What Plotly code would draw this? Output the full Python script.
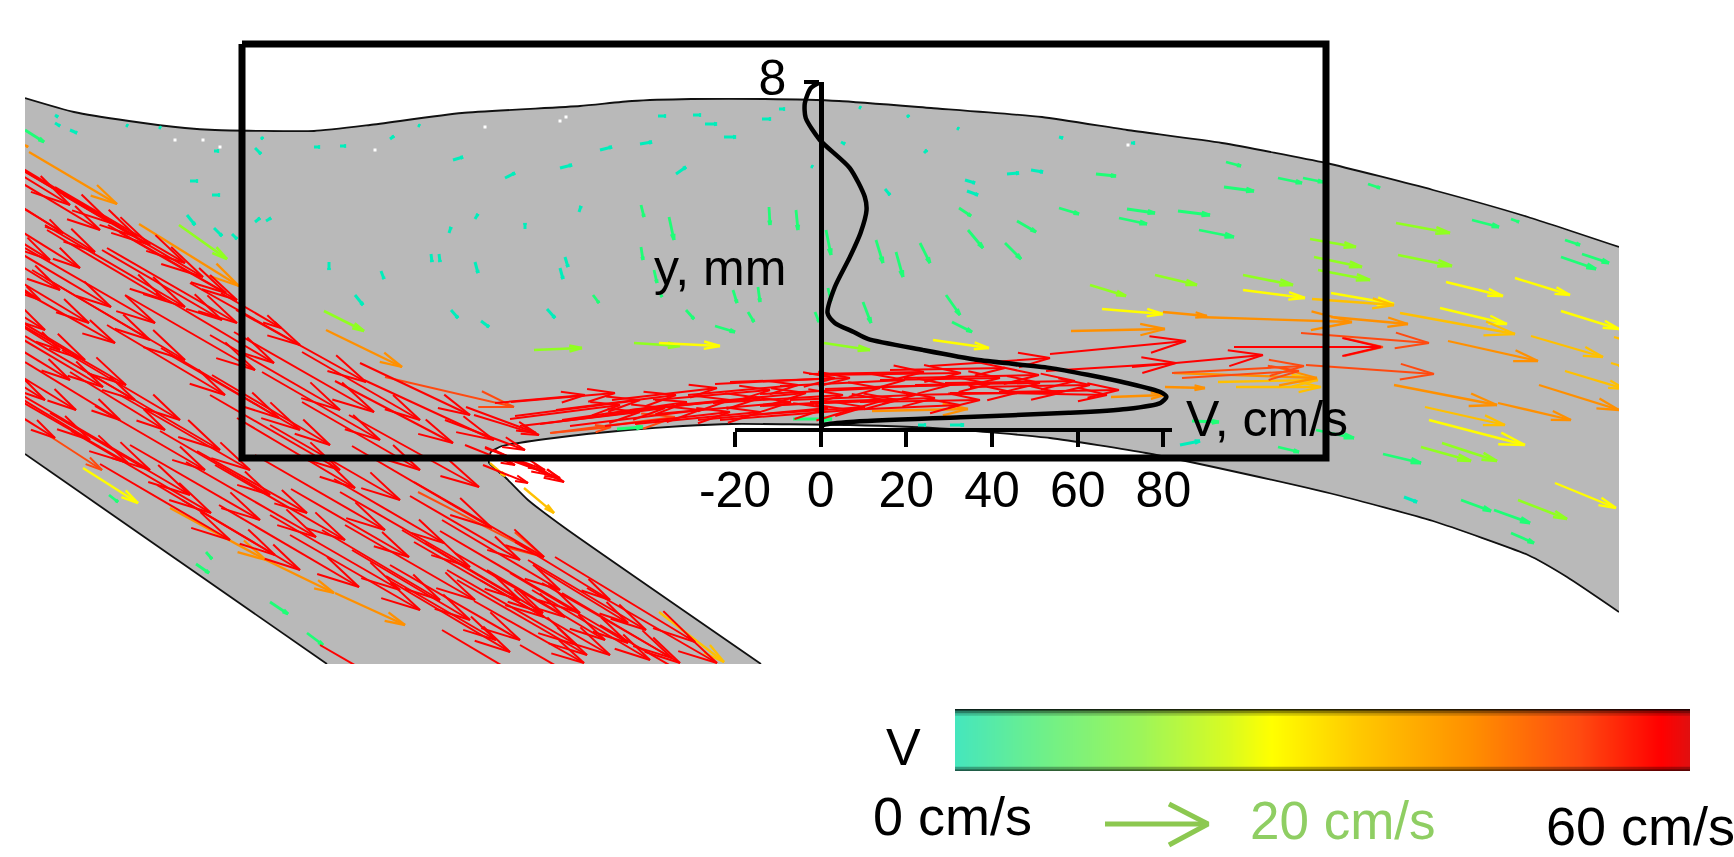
import math
import plotly.graph_objects as go

W, H = 1734, 857
FONT = "Liberation Sans"

# ---- channel geometry (image-space coordinates) ----
top_wall_x = [25, 74, 129, 185, 215, 314, 370, 462, 580, 632, 691, 765, 839, 931, 1042, 1127, 1222, 1326, 1433, 1528, 1619]
top_wall_y = [98, 112, 121, 128, 130, 131, 125, 113, 106, 101, 99, 99, 101, 108, 117, 130, 143, 163, 190, 217, 247]
lower_wall_x = [489, 491, 502, 554, 628, 683, 732, 850, 950, 1050, 1146, 1241, 1337, 1433, 1528, 1567, 1619]
lower_wall_y = [458, 452, 446, 438, 430, 426, 424, 425, 429, 438, 453, 473, 495, 521, 555, 577, 612]
nozzle_x = [489, 489, 506, 528, 565, 761]
nozzle_y = [458, 463, 478, 500, 528, 664]
left_wall_x = [327, 25]
left_wall_y = [664, 454]
box_x = [242, 1326, 1326, 242, 242]
box_y = [44, 44, 458, 458, 44]
speck_x = [485, 375, 220, 203, 560, 1128, 566, 175]
speck_y = [127, 150, 147, 140, 121, 145, 117, 140]

# ---- velocity profile ----
profile_v = [0, -2.3, -3.7, -3.5, -0.2, 6.8, 10.3, 10.7, 9.3, 6.8, 3.3, 1.6, 3.3, 7.7, 11, 24, 36.9, 53.4, 62.3, 71.4, 79.3, 80.7, 79.3, 71.4, 57.9, 32.7, 6.8, 0.7, 0]
profile_y = [8, 7.86, 7.51, 7.17, 6.66, 6.01, 5.34, 5.04, 4.51, 3.95, 3.26, 2.66, 2.43, 2.22, 2.06, 1.8, 1.57, 1.39, 1.23, 1.04, 0.83, 0.72, 0.58, 0.44, 0.35, 0.25, 0.14, 0.07, 0]
v_ticks = [-20, 0, 20, 40, 60, 80]
v_tick_labels = ["-20", "0", "20", "40", "60", "80"]

# ---- arrows: (x, y, dx, dy) per speed class, x,y = tail ----
turquoise = [(55,115,3,2),(55,123,5,3),(70,130,7,3),(126,125,2,1),(159,127,2,1),(214,151,5,0),(190,181,8,0),(212,195,8,0),(187,215,8,10),(214,228,8,8),(232,234,5,5),(255,148,6,6),(261,137,2,2),(314,147,6,0),(340,146,6,0),(390,139,4,-3),(418,125,2,1),(453,160,10,-3),(560,168,12,-3),(505,178,10,-5),(255,222,5,-4),(266,221,5,-3),(475,219,3,-5),(449,233,2,-6),(525,229,0,-6),(579,212,2,-6),(329,262,0,8),(381,271,3,8),(355,295,8,10),(431,254,1,8),(439,254,1,8),(475,262,3,11),(565,257,3,10),(560,268,3,11),(451,310,7,8),(481,321,8,6),(547,309,8,9),(658,116,8,0),(693,115,8,0),(705,124,12,0),(762,119,9,0),(779,109,6,0),(724,137,12,0),(600,150,12,-3),(640,144,12,-2),(676,174,10,-7),(841,142,4,2),(811,166,2,1),(859,107,2,1),(907,115,2,2),(957,128,2,1),(1059,137,4,1),(1131,143,4,0),(924,153,3,-3),(885,189,5,6),(965,180,10,3),(1007,174,12,-1),(1031,170,12,2),(967,191,11,4),(1404,497,13,5),(1180,445,20,-4),(918,425,8,0),(950,425,14,0)]
green = [(641,205,3,12),(769,207,1,18),(796,210,2,20),(669,217,5,23),(641,247,2,13),(654,270,3,13),(660,293,2,4),(593,295,6,8),(733,290,4,13),(758,287,2,15),(686,310,8,9),(748,312,6,10),(826,230,5,25),(828,288,3,13),(815,312,4,10),(876,240,7,23),(896,252,7,25),(920,243,10,20),(959,208,12,8),(968,230,15,18),(1005,243,16,16),(1017,221,19,11),(1059,208,20,6),(1096,174,20,2),(1127,209,28,4),(1119,218,28,6),(863,302,8,21),(946,295,14,20),(952,322,20,10),(715,326,20,6),(1226,162,15,4),(1224,187,30,4),(1278,178,24,5),(1303,178,20,4),(1368,184,12,4),(1178,211,32,4),(1199,230,35,7),(1472,220,27,7),(1511,219,8,3),(1565,240,15,5),(1582,254,27,9),(1561,257,35,12),(1192,421,27,1),(1278,447,21,5),(1316,430,38,8),(1383,454,38,9),(1461,500,30,11),(1494,510,36,13),(1511,533,23,10),(109,495,9,7),(196,564,13,9),(206,552,6,7),(270,602,18,12),(307,633,16,12),(25,130,19,12),(793,419,39,0),(617,429,26,-2)]
lime = [(179,225,48,34),(324,311,40,20),(534,350,48,-2),(634,343,46,3),(1396,223,54,10),(1310,239,46,8),(1314,257,48,10),(1318,270,52,10),(1155,275,42,10),(1243,275,50,10),(1090,285,36,11),(1398,255,54,11),(824,343,46,7),(1421,447,50,14),(1442,443,55,18),(1518,500,49,19)]
yellow = [(1446,282,57,14),(1515,278,55,17),(1243,290,62,8),(1102,309,61,5),(1331,293,63,11),(1440,308,67,16),(1561,311,58,18),(659,343,61,3),(933,340,56,8),(83,468,55,35),(1429,420,96,25),(1555,483,61,25)]
gold = [(1400,313,115,21),(1312,299,82,6),(1531,336,72,21),(1565,371,60,18),(1425,407,80,18),(1614,337,10,3),(1611,363,10,3),(1236,387,85,0),(1218,382,100,-2),(524,488,30,25),(659,612,65,50),(490,463,15,13)]
orange = [(29,152,88,52),(139,224,100,62),(326,330,76,37),(170,508,96,52),(266,560,68,33),(335,593,70,32),(1197,317,155,5),(1163,312,44,4),(1071,331,94,-2),(1331,317,77,7),(1448,341,90,20),(1394,385,103,20),(1498,403,73,17),(1539,385,80,25),(1165,387,40,1),(1111,397,54,-2),(1174,373,143,5),(872,411,96,-2),(25,145,3,2)]
orange_red = [(385,377,129,30),(48,435,54,35),(1301,333,128,10),(1306,365,128,9),(1172,373,132,-7),(1182,378,117,-7),(1236,347,147,0),(551,433,60,-6),(550,433,125,-16),(418,492,126,65)]
# red arrows are listed by their tip: (tip x, tip y, dx, dy)
red_nozzle = [(103,387,118,70),(126,385,130,75),(185,360,140,82),(115,343,110,62),(255,370,130,75),(274,363,118,70),(300,345,110,62),(76,410,95,58),(55,438,80,50),(128,463,130,75),(211,513,140,82),(279,418,118,70),(366,382,130,72),(374,412,140,80),(355,488,118,70),(316,537,130,75),(307,513,110,62),(409,557,118,68),(359,587,140,82),(470,567,130,75),(444,543,110,64),(494,440,130,60),(453,443,118,62),(479,487,130,72),(536,433,70,26),(564,482,70,32),(492,528,140,82),(544,557,130,75),(510,652,118,70),(544,617,130,75),(496,640,110,64),(577,645,130,75),(580,613,140,82),(111,307,118,70),(100,230,110,66),(137,237,125,75),(80,268,90,56),(203,277,140,82),(226,293,118,68),(237,323,130,75),(281,328,60,35),(89,323,110,66),(185,307,140,82),(63,233,60,38),(155,323,130,75),(222,320,120,70),(543,613,118,70),(587,655,130,75),(628,643,118,70),(695,642,140,85),(717,663,130,75),(680,663,118,70),(584,663,110,62),(565,617,110,64),(646,630,118,70),(628,623,95,58),(672,658,130,75),(650,720,130,75),(560,700,118,70),(450,720,130,75),(730,700,130,75),(528,483,45,18),(539,435,65,20),(300,430,130,75),(340,470,130,75),(400,500,130,75),(250,470,130,75),(180,420,118,70),(150,340,118,70),(60,350,80,50),(220,450,140,82),(420,610,130,75),(470,620,118,70),(300,570,118,70),(260,520,130,75),(95,252,105,64),(165,300,118,70),(40,300,60,38),(120,420,95,58),(225,395,118,70),(330,445,118,70),(420,470,118,68),(385,530,130,75),(205,470,110,64),(165,430,95,58),(270,495,110,64),(440,600,118,70),(520,600,118,70),(605,640,118,70),(610,600,95,58),(70,380,95,58),(135,400,110,64),(340,410,130,75),
              (111,223,130,78),(150,245,130,76),(185,263,130,76),(70,205,130,80),(237,300,118,68),(60,290,110,68),(50,260,100,62),(45,330,100,62),(85,360,120,72),(45,400,90,56),(90,440,110,66),(150,470,130,76),(190,495,140,82),(230,540,130,76),(275,555,118,70),(345,540,130,75),(400,590,130,75),(550,475,65,28),(560,478,55,20),(545,470,60,22),(515,465,50,20),(525,450,80,30),(420,420,118,68),(380,440,118,68),(470,415,110,52),(520,640,130,75),(610,655,130,75),(560,590,118,70),(650,660,118,70),(475,600,130,75),(520,560,110,64)]
red_jet = [(615,393,104,-9),(717,388,105,-12),(676,395,120,-15),(687,402,125,-18),(798,385,110,-10),(835,378,120,-6),(806,393,130,-12),(850,378,120,-4),(791,402,135,-12),(843,395,130,-8),(915,395,125,-5),(898,400,130,-5),(850,410,130,-10),(865,407,115,-8),(828,408,130,-12),(1039,375,135,-3),(1005,368,115,-2),(961,373,140,-2),(924,372,115,-2),(1060,393,110,0),(1016,393,110,-2),(1119,390,120,-2),(1107,395,110,2),(1186,341,136,-13),(1263,355,131,-12),(1176,363,130,-8),(1381,347,147,0),(1050,358,120,-8),(640,400,125,-16),(700,410,130,-16),(760,398,130,-12),(640,412,120,-14),(760,412,125,-12),(880,388,120,-6),(990,384,120,-3),
           (585,395,90,-8),(620,405,110,-14),(665,408,125,-16),(730,400,125,-14),(770,390,115,-10),(730,412,125,-14),(905,380,125,-6),(950,385,125,-4),(935,398,125,-4),(980,400,120,-2),(885,400,125,-6),(1075,381,130,-2),(1090,385,120,-2),(1040,383,125,-2),(960,405,115,-5),(1000,378,120,-2)]

arrow_colorscale = [(0, "#00e8c8"), (0.05, "#00eebb"), (0.14, "#20ff70"), (0.25, "#90ff20"), (0.43, "#ffff00"), (0.55, "#ffc000"), (0.7, "#ff9000"), (0.85, "#ff4a10"), (1, "#ff0000")]
bar_colorscale = [(0, "#45e6bd"), (0.12, "#6ff089"), (0.25, "#9cf55b"), (0.37, "#d8fb22"), (0.43, "#ffff00"), (0.55, "#ffc800"), (0.7, "#ff9000"), (0.85, "#ff4a10"), (0.96, "#ff0000"), (1, "#e01010")]
bar_values = list(range(0, 61))

HEAD_ANGLE = math.radians(13)


def speed_color(speed):
    t = speed / 60
    for (t0, c0), (t1, c1) in zip(arrow_colorscale, arrow_colorscale[1:]):
        if t0 <= t <= t1:
            f = (t - t0) / (t1 - t0)
            a = [int(c0[i:i + 2], 16) for i in (1, 3, 5)]
            b = [int(c1[i:i + 2], 16) for i in (1, 3, 5)]
            r, g, bl = (round(p + (q - p) * f) for p, q in zip(a, b))
            return f"rgb({r},{g},{bl})"
    return arrow_colorscale[-1][1]


def arrow_path(x, y, dx, dy):
    """Tail to tip line and a narrow chevron head, None separated."""
    L = math.hypot(dx, dy)
    xt, yt = x + dx, y + dy
    head = max(0.27 * L, 2)
    ang = math.atan2(dy, dx)
    xs, ys = [x, xt, None], [y, yt, None]
    for sgn in (-1, 1):
        a = ang + math.pi + sgn * HEAD_ANGLE
        xs += [xt + head * math.cos(a), xt, None]
        ys += [yt + head * math.sin(a), yt, None]
    return xs, ys


fig = go.Figure()
channel_x = top_wall_x + lower_wall_x[::-1] + nozzle_x + left_wall_x
channel_y = top_wall_y + lower_wall_y[::-1] + nozzle_y + left_wall_y
fig.add_trace(go.Scatter(x=channel_x, y=channel_y, mode="lines", fill="toself", fillcolor="#b9b9b9",
                         line=dict(width=0), hoverinfo="skip", showlegend=False))
for wx, wy in ((top_wall_x, top_wall_y), (lower_wall_x, lower_wall_y), (nozzle_x, nozzle_y), (left_wall_x, left_wall_y)):
    fig.add_trace(go.Scatter(x=wx, y=wy, mode="lines", line=dict(color="#111111", width=1.8, shape="spline", smoothing=0.5),
                             hoverinfo="skip", showlegend=False))
fig.add_trace(go.Scatter(x=speck_x, y=speck_y, mode="markers", marker=dict(color="white", size=3, symbol="square"),
                         hoverinfo="skip", showlegend=False))

classes = [(turquoise, 3, 3.0), (green, 8, 2.8), (lime, 15, 2.6), (yellow, 26, 2.4), (gold, 33, 2.3), (orange, 42, 2.3), (orange_red, 51, 2.0)]
red_tails = [(tx - dx, ty - dy, dx, dy) for tx, ty, dx, dy in red_nozzle + red_jet]
classes.append((red_tails, 60, 2.0))
for rows, speed, lw in classes:
    xs, ys = [], []
    for r in rows:
        a, b = arrow_path(*r)
        xs += a
        ys += b
    fig.add_trace(go.Scatter(x=xs, y=ys, mode="lines", line=dict(color=speed_color(speed), width=lw), hoverinfo="skip", showlegend=False))

fig.add_trace(go.Scatter(x=box_x, y=box_y, mode="lines", line=dict(color="black", width=7), hoverinfo="skip", showlegend=False))

fig.add_trace(go.Scatter(x=profile_v, y=profile_y, xaxis="x2", yaxis="y2", mode="lines",
                         line=dict(color="black", width=4.5, shape="spline", smoothing=0.7), cliponaxis=False,
                         hoverinfo="skip", showlegend=False))

fig.add_trace(go.Heatmap(z=[bar_values], x=bar_values, y=[0], xaxis="x3", yaxis="y3", colorscale=bar_colorscale,
                         zmin=0, zmax=60, zsmooth="best", showscale=False, hoverinfo="skip"))

# 20 cm/s reference arrow, in the strip below the channel
fig.add_trace(go.Scatter(x=[1105, 1208, None, 1169, 1208, 1169], y=[824, 824, None, 804, 824, 845], xaxis="x4", yaxis="y4",
                         mode="lines", line=dict(color="#8cc850", width=5), hoverinfo="skip", showlegend=False))

shapes = []
for y0, y1, alpha in ((1, 0.97, 0.85), (0.97, 0.93, 0.45), (0.93, 0.89, 0.18), (0.03, 0, 0.6), (0.07, 0.03, 0.3)):
    shapes.append(dict(type="rect", xref="x3 domain", yref="y3 domain", x0=0, x1=1, y0=y0, y1=y1,
                       fillcolor=f"rgba(0,0,0,{alpha})", line=dict(width=0)))


def text(s, x, y, size, color="black"):
    return dict(text=s, x=x / W, y=1 - y / H, xref="paper", yref="paper", showarrow=False,
                font=dict(family=FONT, size=size, color=color), xanchor="center", yanchor="middle")


annotations = [
    text("y, mm", 720, 268, 50),
    text("V, cm/s", 1267, 419, 50),
    text("V", 903, 747, 52),
    text("0 cm/s", 952, 816, 54),
    text("20 cm/s", 1343, 820, 53, "#8fce63"),
    text("60 cm/s", 1640, 826, 54),
]

fig.update_layout(
    template="none",
    width=W, height=H, autosize=False, margin=dict(l=0, r=0, t=0, b=0, pad=0),
    paper_bgcolor="white", plot_bgcolor="rgba(0,0,0,0)", showlegend=False,
    shapes=shapes, annotations=annotations,
    xaxis=dict(domain=[25 / W, 1619 / W], range=[25, 1619], visible=False, automargin=False),
    yaxis=dict(domain=[1 - 664 / H, 1], range=[664, 0], visible=False, automargin=False),
    xaxis2=dict(domain=[735 / W, 1172 / W], range=[-20, 82], anchor="y2", tickvals=v_ticks, ticktext=v_tick_labels, ticks="outside", ticklen=15,
                tickwidth=4, tickcolor="black", showline=True, linecolor="black", linewidth=4, showgrid=False, zeroline=False,
                tickfont=dict(family=FONT, size=50, color="black"), ticklabelstandoff=0, automargin=False),
    yaxis2=dict(domain=[1 - 428 / H, 1 - 82 / H], range=[0, 8], anchor="free", position=821 / W, tickvals=[8], ticks="outside",
                ticklen=15, tickwidth=4, tickcolor="black", showline=True, linecolor="black", linewidth=4.5, showgrid=False,
                zeroline=False, tickfont=dict(family=FONT, size=50, color="black"), ticklabelstandoff=8, ticklabelshift=-5, automargin=False),
    xaxis3=dict(domain=[955 / W, 1690 / W], range=[0, 60], anchor="y3", visible=False, automargin=False),
    yaxis3=dict(domain=[1 - 771 / H, 1 - 709 / H], range=[-0.5, 0.5], anchor="x3", visible=False, automargin=False),
    xaxis4=dict(domain=[0, 1], range=[0, W], anchor="y4", visible=False, automargin=False),
    yaxis4=dict(domain=[0, 1 - 664 / H], range=[H, 664], anchor="x4", visible=False, automargin=False),
)

fig.write_html("out.html", config=dict(displayModeBar=False),
               post_script="document.body.style.margin='0';document.body.style.overflow='hidden';")
